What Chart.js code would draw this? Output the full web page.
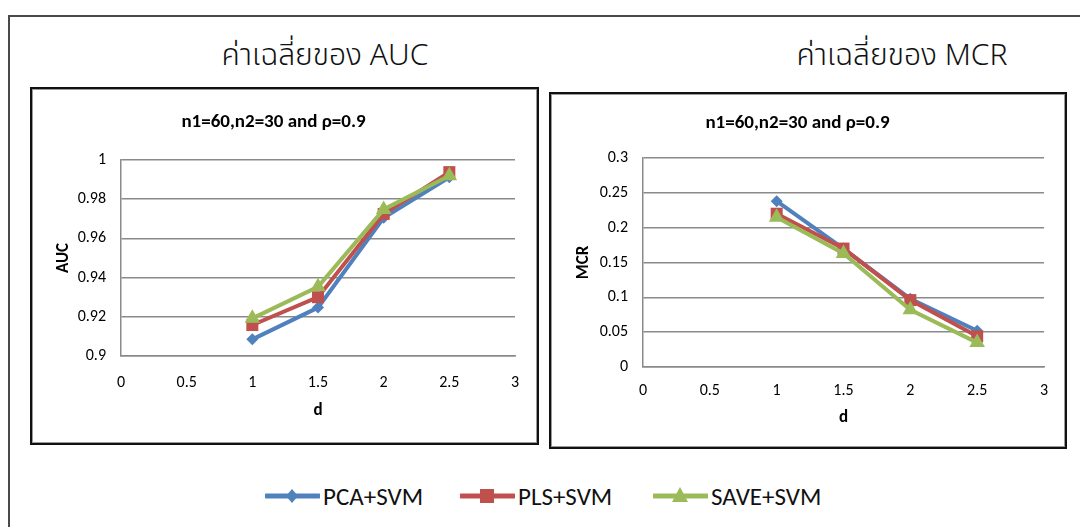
<!DOCTYPE html>
<html>
<head>
<meta charset="utf-8">
<script src="https://cdn.jsdelivr.net/npm/chart.js@4.4.1/dist/chart.umd.min.js"></script>
<style>
  html, body { margin: 0; padding: 0; background: #fff; }
  body { width: 1080px; height: 527px; position: relative; overflow: hidden; }
  .frame { position: absolute; left: 8px; top: 15px; width: 1200px; height: 700px; border: 2px solid #4a4a4a; box-sizing: border-box; }
  .heading { position: absolute; top: 33px; font-family: 'Noto Sans Thai', 'Loma', 'Garuda', 'Norasi', 'DejaVu Sans', sans-serif; font-size: 30px; font-weight: 300; color: #111; white-space: nowrap; transform: translateX(-50%); }
  .panel { position: absolute; box-sizing: border-box; border: 2px solid #111; box-shadow: inset 0 0 0 1px #9a9a9a; background: #fff; }
  .panel canvas { position: absolute; left: 0; top: 0; }
  .legend { position: absolute; top: 481px; left: 0; width: 1080px; height: 30px; font-family: 'Carlito', 'Lato', sans-serif; font-size: 25px; color: #111; }
  .legend .item { position: absolute; top: 0; height: 30px; display: flex; align-items: center; }
  .legend svg { display: block; margin-right: 3px; }
</style>
</head>
<body>
<div class="frame"></div>
<div class="heading" style="left:325px">ค่าเฉลี่ยของ AUC</div>
<div class="heading" style="left:902px">ค่าเฉลี่ยของ MCR</div>

<div class="panel" id="panelAuc" style="left:30px; top:87px; width:509px; height:358px;"><canvas id="aucChart"></canvas></div>
<div class="panel" id="panelMcr" style="left:549px; top:92px; width:518px; height:357px;"><canvas id="mcrChart"></canvas></div>

<div class="legend" id="legend"></div>

<script>
// Distance between groups (x axis)
const dValues = [1, 1.5, 2, 2.5];

// Mean AUC per method
const aucPCA  = [0.9085, 0.9247, 0.9705, 0.9912];
const aucPLS  = [0.9158, 0.9300, 0.9725, 0.9938];
const aucSAVE = [0.9192, 0.9353, 0.9748, 0.9920];

// Mean misclassification rate per method
const mcrPCA  = [0.238, 0.170, 0.098, 0.052];
const mcrPLS  = [0.220, 0.170, 0.096, 0.044];
const mcrSAVE = [0.215, 0.163, 0.082, 0.035];

const methodNames = ['PCA+SVM', 'PLS+SVM', 'SAVE+SVM'];
const methodColors = ['#4F81BD', '#C0504D', '#9BBB59'];
const methodMarkers = ['rectRot', 'rect', 'triangle'];
const markerRadius = [6, 8.5, 9];

const chartTitle = 'n1=60,n2=30 and ρ=0.9';
const xTicks = { min: 0, max: 3, step: 0.5 };
const aucTicks = { min: 0.9, max: 1, step: 0.02 };
const mcrTicks = { min: 0, max: 0.3, step: 0.05 };

const FONT = "'Carlito', 'Lato', sans-serif";
const GRID = '#8a8a8a';

function toPoints(ys) { return dValues.map((x, i) => ({ x: x, y: ys[i] })); }

// Plain number labels: 1 instead of 1.0, 0.9 instead of 0.90
function plainLabel(v) { return String(Number(v.toFixed(4))); }

function buildDatasets(series) {
  return series.map((ys, i) => ({
    label: methodNames[i],
    data: toPoints(ys),
    borderColor: methodColors[i],
    backgroundColor: methodColors[i],
    borderWidth: 4,
    pointStyle: methodMarkers[i],
    pointRadius: markerRadius[i],
    pointBorderWidth: 0,
    pointBackgroundColor: methodColors[i],
    showLine: true,
    tension: 0,
    order: 3 - i
  }));
}

function makeChart(canvasId, series, yTitle, yRange, geo) {
  const ctx = document.getElementById(canvasId);
  ctx.width = geo.w; ctx.height = geo.h;
  return new Chart(ctx, {
    type: 'scatter',
    data: { datasets: buildDatasets(series) },
    options: {
      responsive: false,
      animation: false,
      layout: { padding: { left: 0, right: geo.padRight, top: 0, bottom: 0 } },
      plugins: {
        legend: { display: false },
        tooltip: { enabled: false },
        title: {
          display: true,
          text: chartTitle,
          color: '#000',
          font: { family: FONT, size: 19, weight: 'bold', lineHeight: 1 },
          padding: { top: geo.titleTop, bottom: geo.titleBottom }
        }
      },
      scales: {
        x: {
          type: 'linear',
          min: xTicks.min, max: xTicks.max,
          afterFit: (s) => { s.height = geo.xHeight; },
          ticks: { stepSize: xTicks.step, color: '#000', font: { family: FONT, size: 16 }, padding: geo.xTickPad, maxRotation: 0, callback: plainLabel },
          grid: { display: false, drawTicks: false },
          border: { display: true, color: GRID, width: 1.5 },
          title: { display: true, text: 'd', color: '#000', font: { family: FONT, size: 17, weight: 'bold', lineHeight: 1.2 }, padding: { top: 0, bottom: geo.xTitlePad } }
        },
        y: {
          type: 'linear',
          min: yRange.min, max: yRange.max,
          afterFit: (s) => { s.width = geo.yWidth; },
          ticks: { stepSize: yRange.step, color: '#000', font: { family: FONT, size: 16 }, padding: 15, callback: plainLabel },
          grid: { display: true, color: GRID, lineWidth: 1.5, drawTicks: false },
          border: { display: true, color: GRID, width: 1.5 },
          title: { display: true, text: yTitle, color: '#000', font: { family: FONT, size: 17, weight: 'bold', lineHeight: 1.2 }, padding: { top: geo.yTitlePad, bottom: 0 } }
        }
      }
    }
  });
}

makeChart('aucChart', [aucPCA, aucPLS, aucSAVE], 'AUC', aucTicks,
  { w: 509, h: 358, padRight: 26, titleTop: 24, titleBottom: 28, yWidth: 89, yTitlePad: 22, xHeight: 91, xTitlePad: 26, xTickPad: 17 });
makeChart('mcrChart', [mcrPCA, mcrPLS, mcrSAVE], 'MCR', mcrTicks,
  { w: 518, h: 357, padRight: 25, titleTop: 20, titleBottom: 25, yWidth: 92, yTitlePad: 23, xHeight: 84, xTitlePad: 23, xTickPad: 14 });

// Shared legend below both charts
const legendLefts = [265, 460, 653];
const legend = document.getElementById('legend');
methodNames.forEach((name, i) => {
  const item = document.createElement('div');
  item.className = 'item';
  item.style.left = legendLefts[i] + 'px';
  const c = methodColors[i];
  let marker;
  if (methodMarkers[i] === 'rectRot') marker = `<polygon points="27,8 33,15 27,22 21,15" fill="${c}"/>`;
  else if (methodMarkers[i] === 'rect') marker = `<rect x="20" y="8" width="14" height="14" fill="${c}"/>`;
  else marker = `<polygon points="27,6 35,21 19,21" fill="${c}"/>`;
  item.innerHTML = `<svg width="55" height="30"><line x1="1" y1="15" x2="54" y2="15" stroke="${c}" stroke-width="5" stroke-linecap="round"/>${marker}</svg><span>${name}</span>`;
  legend.appendChild(item);
});
</script>
</body>
</html>
